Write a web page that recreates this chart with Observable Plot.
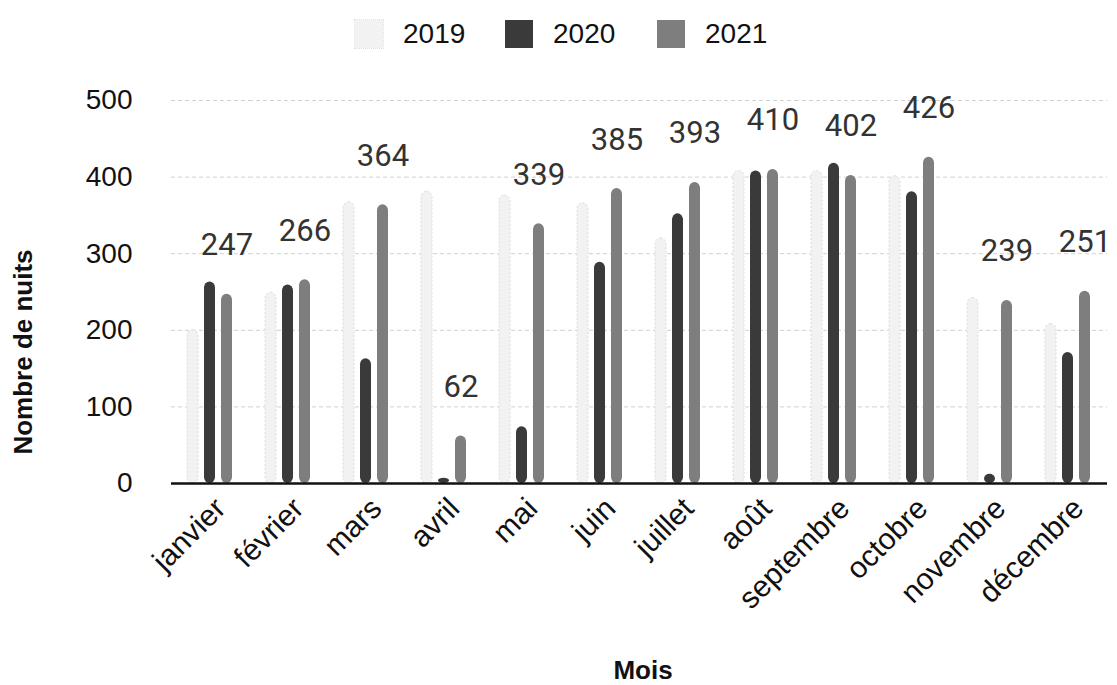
<!DOCTYPE html>
<html>
<head>
<meta charset="utf-8">
<script src="https://cdn.jsdelivr.net/npm/d3@7"></script>
<script src="https://cdn.jsdelivr.net/npm/@observablehq/plot@0.6"></script>
<style>
  html, body { margin: 0; padding: 0; background: #fff; }
  #wrap { position: relative; width: 1117px; height: 685px; overflow: hidden; font-family: "Liberation Sans", Arial, sans-serif; color: #111; }
  #legend { position: absolute; top: 0; left: 0; width: 1117px; height: 65px; }
  .item { position: absolute; top: 18px; display: flex; align-items: center; font-size: 28px; }
  .sw { width: 28px; height: 28px; margin-right: 20px; }
  #chart { position: absolute; top: 65px; left: 0; }
  #ytitle { position: absolute; left: 23px; top: 352px; transform: translate(-50%, -50%) rotate(-90deg); font-size: 26px; font-weight: bold; white-space: nowrap; }
  #xtitle { position: absolute; left: 643px; top: 670px; transform: translate(-50%, -50%); font-size: 26px; font-weight: bold; }
</style>
</head>
<body>
<div id="wrap">
  <div id="legend"></div>
  <div id="chart"></div>
  <div id="ytitle">Nombre de nuits</div>
  <div id="xtitle">Mois</div>
</div>
<script>
const months = ["janvier", "février", "mars", "avril", "mai", "juin", "juillet", "août", "septembre", "octobre", "novembre", "décembre"];
const years = ["2019", "2020", "2021"];
const values2019 = [200, 249, 367, 381, 376, 366, 320, 408, 408, 401, 242, 208];
const values2020 = [263, 259, 163, 7, 74, 289, 352, 408, 418, 381, 12, 171];
const values2021 = [247, 266, 364, 62, 339, 385, 393, 410, 402, 426, 239, 251];
const yTicks = [0, 100, 200, 300, 400, 500];
const colors = ["#f2f2f2", "#3a3a3a", "#7e7e7e"];

const series = [values2019, values2020, values2021];
const data = [];
months.forEach((m, i) => years.forEach((y, j) => data.push({month: m, year: y, value: series[j][i]})));
const labels = months.map((m, i) => ({month: m, year: "2021", value: values2021[i]}));

// legend
const legend = document.getElementById("legend");
const legendX = [355, 505, 657];
years.forEach((y, j) => {
  const it = document.createElement("div");
  it.className = "item";
  it.style.left = legendX[j] + "px";
  const sw = document.createElement("div");
  sw.className = "sw";
  sw.style.background = colors[j];
  if (j === 0) sw.style.outline = "1px dotted #e0e0e0";
  it.appendChild(sw);
  const t = document.createElement("span");
  t.textContent = y;
  it.appendChild(t);
  legend.appendChild(it);
});

const chart = Plot.plot({
  width: 1117,
  height: 620,
  marginTop: 35,
  marginBottom: 202,
  marginLeft: 166,
  marginRight: 6,
  style: {fontFamily: "Liberation Sans, Arial, sans-serif", color: "#111", background: "transparent"},
  fx: {domain: months, padding: 0, label: null, axis: null},
  x: {domain: years, paddingInner: 0.33, paddingOuter: 0.86, axis: null},
  y: {domain: [0, 500], label: null},
  color: {domain: years, range: colors},
  marks: [
    Plot.gridY(yTicks.filter(t => t > 0), {stroke: "#999", strokeOpacity: 0.45, strokeDasharray: "4,3"}),
    Plot.axisY(yTicks, {tickSize: 0, tickPadding: 39, fontSize: 28, label: null}),
    Plot.axisFx({anchor: "bottom", tickSize: 0, tickRotate: -45, fontSize: 30, tickPadding: 20, dx: 10, label: null}),
    Plot.barY(data, {filter: d => d.year === "2019", fx: "month", x: "year", y: "value", fill: "year", stroke: "#dadada", strokeDasharray: "2,2", rx: 6}),
    Plot.barY(data, {filter: d => d.year !== "2019", fx: "month", x: "year", y: "value", fill: "year", rx: 6}),
    Plot.ruleY([0], {stroke: "#111", strokeWidth: 2.5}),
    Plot.text(labels, {fx: "month", x: "year", y: "value", text: d => String(d.value), dy: -49, fontSize: 31, fill: "#333", fontFamily: "Roboto, sans-serif"})
  ]
});
document.getElementById("chart").appendChild(chart);
</script>
</body>
</html>
